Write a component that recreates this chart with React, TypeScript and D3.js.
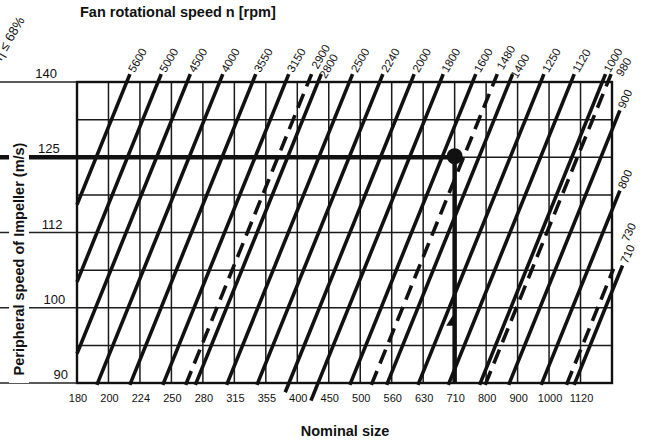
import React from 'react';
import * as d3 from 'd3';

// ---------- data ----------
const NOMINAL_SIZES = ['180', '200', '224', '250', '280', '315', '355', '400', '450', '500', '560', '630', '710', '800', '900', '1000', '1120', '1250'];
const SIZE_TICK_LABELS = NOMINAL_SIZES.slice(0, -1);
const SPEED_ROWS = ['90', '95', '100', '106', '112', '118', '125', '132', '140'];
const SPEED_TICK_LABELS = ['140', '125', '112', '100', '90'];
const SOLID_RPM = [5600, 5000, 4500, 4000, 3550, 3150, 2800, 2500, 2240, 2000, 1800, 1600, 1400, 1250, 1120, 1000, 900, 800, 710];
const DASHED_RPM = [2900, 1480, 980, 730];
// peripheral speed u [m/s] = factor * nominal size [mm] * n [rpm]
const RPM_TO_SPEED = 1.16e-4;
const OP_SIZE = '710';
const OP_SPEED = '125';
const OP_ARROW_SPEED = [97.9, 99.8];
const EFFICIENCY_NOTE = 'η ≤ 68%';

// ---------- layout ----------
const W = 645, H = 442;
const L = 77, R = 612, T = 82, B = 383;
const FONT = 'Liberation Sans, Arial, Helvetica, sans-serif';

const xs = d3.scaleLog().domain([180, 1250]).range([L, R]);
const ys = d3.scaleLog().domain([90, 140]).range([B, T]);
const xp = d3.scalePoint<string>().domain(NOMINAL_SIZES).range([L, R]);
const yp = d3.scalePoint<string>().domain(SPEED_ROWS).range([B, T]);

// styling tweaks (px) for crowded labels / special ticks
const BOTTOM_EXT: Record<number, number> = { 2000: 10, 1800: 19 };
const TOP_EXT: Record<number, number> = { 710: 28, 730: 4 };
const LABEL_ALONG: Record<number, number> = { 2900: 7, 2800: 0, 1480: 6, 1400: 0, 980: 2, 730: 30, 710: 3 };
const LABEL_SHIFT: Record<number, [number, number]> = { 980: [7, 3], 2800: [1, 3], 1400: [1, 3] };

function speedLine(n: number, dashed: boolean) {
  const c = RPM_TO_SPEED * n;
  const dTop = 140 / c;
  let top: [number, number];
  let kind: 'top' | 'right';
  if (dTop <= 1250) { top = [xs(dTop), ys(140)]; kind = 'top'; }
  else { top = [xs(1250), ys(c * 1250)]; kind = 'right'; }
  const dBot = 90 / c;
  let bot: [number, number];
  let bKind: 'bottom' | 'left';
  if (dBot >= 180) { bot = [xs(dBot), ys(90)]; bKind = 'bottom'; }
  else { bot = [xs(180), ys(c * 180)]; bKind = 'left'; }
  const dx = top[0] - bot[0], dy = top[1] - bot[1];
  const len = Math.hypot(dx, dy);
  const ux = dx / len, uy = dy / len;
  const tExt = TOP_EXT[n] ?? (kind === 'top' ? 8.5 : 21);
  const bExt = bKind === 'bottom' ? (BOTTOM_EXT[n] ?? 2) : 0;
  const p1: [number, number] = [bot[0] - ux * bExt, bot[1] - uy * bExt];
  const p2: [number, number] = [top[0] + ux * tExt, top[1] + uy * tExt];
  const la = LABEL_ALONG[n] ?? 3;
  const sh = LABEL_SHIFT[n] ?? [0, 0];
  const lab: [number, number] = [p2[0] + ux * la + sh[0], p2[1] + uy * la + sh[1]];
  return { n, dashed, kind, p1, p2, lab };
}

const LINES = [
  ...SOLID_RPM.map((n) => speedLine(n, false)),
  ...DASHED_RPM.map((n) => speedLine(n, true)),
];

export default function App() {
  const line = d3.line();
  const opX = xp(OP_SIZE)!;
  const opY = yp(OP_SPEED)!;
  const arrowY0 = ys(OP_ARROW_SPEED[0]);
  const arrowY1 = ys(OP_ARROW_SPEED[1]);
  return (
    <svg width={W} height={H} style={{ position: 'absolute', left: 0, top: 0, background: '#fff' }} fontFamily={FONT}>
      <rect x={0} y={0} width={W} height={H} fill="#fff" />
      {/* grid */}
      {NOMINAL_SIZES.map((s) => (
        <line key={'v' + s} x1={xp(s)} x2={xp(s)} y1={T} y2={B} stroke="#1a1a1a" strokeWidth={1.5} />
      ))}
      {SPEED_ROWS.map((s) => (
        <line key={'h' + s} x1={L} x2={R} y1={yp(s)} y2={yp(s)} stroke="#1a1a1a" strokeWidth={1.5} />
      ))}
      <rect x={L} y={T} width={R - L} height={B - T} fill="none" stroke="#111" strokeWidth={2.4} />
      {/* left tick lines */}
      {SPEED_TICK_LABELS.filter((s) => s !== OP_SPEED).map((s) => (
        <line key={'lt' + s} x1={0} x2={L} y1={yp(s)} y2={yp(s)} stroke="#222" strokeWidth={1.3} />
      ))}
      <line x1={0} x2={opX} y1={opY} y2={opY} stroke="#111" strokeWidth={4.5} />
      {/* y title with white band */}
      <rect x={9} y={134} width={20} height={249} fill="#fff" />
      <text transform={`translate(23.5,259) rotate(-90)`} textAnchor="middle" fontSize={14.5} fontWeight="bold" fill="#111">
        Peripheral speed of Impeller (m/s)
      </text>
      {/* speed lines */}
      {LINES.map((l) => (
        <path key={'l' + l.n} d={line([l.p1, l.p2])!} stroke="#111" strokeWidth={3.6} fill="none"
          strokeDasharray={l.dashed ? '15,8' : undefined} />
      ))}
      {/* speed labels */}
      {LINES.map((l) => (
        <text key={'t' + l.n} transform={`translate(${l.lab[0]},${l.lab[1]}) rotate(${l.kind === 'top' ? -60 : -66})`}
          dy="0.35em" fontSize={11.5} fill="#111">{l.n}</text>
      ))}
      {/* operating point */}
      <line x1={opX} x2={opX} y1={opY} y2={B} stroke="#111" strokeWidth={4.5} />
      <circle cx={opX} cy={opY - 1} r={8} fill="#111" />
      <path d={line([[opX - 8.5, arrowY0], [opX, arrowY0], [opX, arrowY1]])! + 'Z'} fill="#111" />
      {/* left tick labels */}
      {SPEED_TICK_LABELS.map((s) => {
        const y = yp(s)!;
        return (
          <text key={'yl' + s} x={57 + (y - T) * 11 / 301} y={y - 4} textAnchor="end" fontSize={13} fill="#111">{s}</text>
        );
      })}
      {/* bottom tick labels */}
      {SIZE_TICK_LABELS.map((s) => (
        <text key={'xl' + s} x={xp(s)! + 1} y={401.5} textAnchor="middle" fontSize={11} fill="#111">{s}</text>
      ))}
      {/* efficiency note */}
      <text transform="translate(25,20) rotate(-60)" textAnchor="end" fontSize={13} fill="#111">{EFFICIENCY_NOTE}</text>
      {/* titles */}
      <text x={80} y={16.5} fontSize={14.5} fontWeight="bold" fill="#111">Fan rotational speed n [rpm]</text>
      <text x={345} y={436} textAnchor="middle" fontSize={14.5} fontWeight="bold" fill="#111">Nominal size</text>
    </svg>
  );
}
